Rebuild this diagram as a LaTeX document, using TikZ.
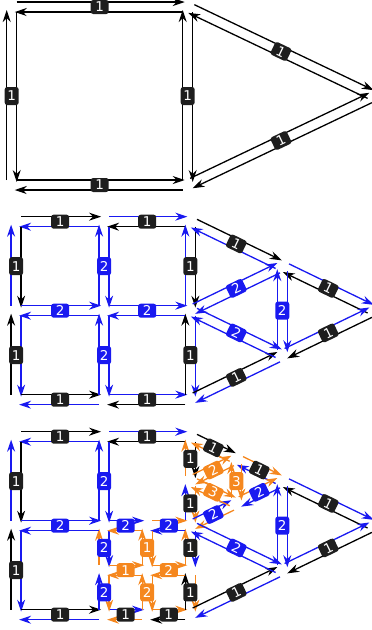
\documentclass[tikz,border=0pt]{standalone}
\usepackage{fontspec}
\setsansfont{DejaVu Sans}
\usetikzlibrary{calc}
\usetikzlibrary{arrows.meta}
\usepackage{xcolor}
\definecolor{lone}{RGB}{0,0,0}
\definecolor{ltwo}{RGB}{25,25,240}
\definecolor{lthree}{RGB}{245,135,30}
\definecolor{tagone}{RGB}{30,30,30}

% one half-edge, on the left of its direction
\newcommand{\halfedge}[3]{%
  \draw[half,#3] ($(#1)!5pt!90:(#2)$) -- ($(#2)!5pt!-90:(#1)$);}
% an edge: its two half-edges and its tag
\newcommand{\meshedge}[7]{%
  \halfedge{#1}{#2}{#3}%
  \halfedge{#2}{#1}{#4}%
  \path (#1) -- node[tag,fill=#6,#7] {#5} (#2);}

\begin{document}
\begin{tikzpicture}[x=88pt,y=89pt,
    half/.style={line width=1.3pt, shorten <=5pt, shorten >=3pt, -{Stealth[length=12pt,width=8pt]}},
    tag/.style={rounded corners=2.5pt, text=white, inner sep=0pt, font=\sffamily\fontsize{13.5}{13.5}\selectfont},
    htag/.style={sloped, minimum width=18pt, minimum height=14pt},
    vtag/.style={minimum width=14pt, minimum height=18pt}]
    \useasboundingbox (-0.133,-0.172) rectangle (4.094,6.907);

    % Coarse mesh
    \begin{scope}[shift={(0,4.828)}]
        \coordinate (A1) at (0,2);
        \coordinate (B1) at (2,2);
        \coordinate (C1) at (0,0);
        \coordinate (D1) at (2,0);
        \coordinate (T1) at (4.12,1);
    \end{scope}
    \meshedge{A1}{B1}{lone}{lone}{1}{tagone}{htag}
    \meshedge{C1}{A1}{lone}{lone}{1}{tagone}{vtag}
    \meshedge{C1}{D1}{lone}{lone}{1}{tagone}{htag}
    \meshedge{D1}{B1}{lone}{lone}{1}{tagone}{vtag}
    \meshedge{B1}{T1}{lone}{lone}{1}{tagone}{htag}
    \meshedge{T1}{D1}{lone}{lone}{1}{tagone}{htag}

    % Refined once
    \begin{scope}[shift={(0,2.416)}]
        \coordinate (A2) at (0.05,2);
        \coordinate (E2) at (1.05,2);
        \coordinate (B2) at (2.03,2);
        \coordinate (F2) at (0.05,1);
        \coordinate (G2) at (1.05,1);
        \coordinate (H2) at (2.03,1);
        \coordinate (C2) at (0.05,0);
        \coordinate (I2) at (1.05,0);
        \coordinate (D2) at (2.03,0);
        \coordinate (T2) at (4.12,1);
        \coordinate (U2) at (3.075,1.5);
        \coordinate (W2) at (3.075,0.5);
    \end{scope}
    \meshedge{A2}{E2}{lone}{ltwo}{1}{tagone}{htag}
    \meshedge{E2}{B2}{ltwo}{lone}{1}{tagone}{htag}
    \meshedge{A2}{F2}{lone}{ltwo}{1}{tagone}{vtag}
    \meshedge{F2}{C2}{ltwo}{lone}{1}{tagone}{vtag}
    \meshedge{C2}{I2}{lone}{ltwo}{1}{tagone}{htag}
    \meshedge{I2}{D2}{ltwo}{lone}{1}{tagone}{htag}
    \meshedge{D2}{H2}{lone}{ltwo}{1}{tagone}{vtag}
    \meshedge{H2}{B2}{ltwo}{lone}{1}{tagone}{vtag}
    \meshedge{B2}{U2}{lone}{ltwo}{1}{tagone}{htag}
    \meshedge{U2}{T2}{ltwo}{lone}{1}{tagone}{htag}
    \meshedge{T2}{W2}{lone}{ltwo}{1}{tagone}{htag}
    \meshedge{W2}{D2}{ltwo}{lone}{1}{tagone}{htag}
    \meshedge{E2}{G2}{ltwo}{ltwo}{2}{ltwo}{vtag}
    \meshedge{G2}{I2}{ltwo}{ltwo}{2}{ltwo}{vtag}
    \meshedge{F2}{G2}{ltwo}{ltwo}{2}{ltwo}{htag}
    \meshedge{G2}{H2}{ltwo}{ltwo}{2}{ltwo}{htag}
    \meshedge{H2}{U2}{ltwo}{ltwo}{2}{ltwo}{htag}
    \meshedge{H2}{W2}{ltwo}{ltwo}{2}{ltwo}{htag}
    \meshedge{U2}{W2}{ltwo}{ltwo}{2}{ltwo}{vtag}

    % Refined locally
    \begin{scope}
        \coordinate (A3) at (0.05,2);
        \coordinate (E3) at (1.05,2);
        \coordinate (B3) at (2.03,2);
        \coordinate (F3) at (0.05,1);
        \coordinate (G3) at (1.05,1);
        \coordinate (J3) at (1.54,1);
        \coordinate (H3) at (2.03,1);
        \coordinate (K3) at (1.05,0.5);
        \coordinate (L3) at (1.54,0.5);
        \coordinate (N3) at (2.03,0.5);
        \coordinate (C3) at (0.05,0);
        \coordinate (I3) at (1.05,0);
        \coordinate (O3) at (1.54,0);
        \coordinate (D3) at (2.03,0);
        \coordinate (T3) at (4.12,1);
        \coordinate (U3) at (3.075,1.5);
        \coordinate (W3) at (3.075,0.5);
        \coordinate (P3) at (2.553,1.75);
        \coordinate (Q3) at (2.553,1.25);
        \coordinate (R3) at (2.03,1.5);
    \end{scope}
    \meshedge{A3}{E3}{lone}{ltwo}{1}{tagone}{htag}
    \meshedge{E3}{B3}{ltwo}{lone}{1}{tagone}{htag}
    \meshedge{A3}{F3}{lone}{ltwo}{1}{tagone}{vtag}
    \meshedge{F3}{C3}{ltwo}{lone}{1}{tagone}{vtag}
    \meshedge{C3}{I3}{lone}{ltwo}{1}{tagone}{htag}
    \meshedge{I3}{O3}{ltwo}{lthree}{1}{tagone}{htag}
    \meshedge{O3}{D3}{lthree}{lone}{1}{tagone}{htag}
    \meshedge{D3}{N3}{lone}{lthree}{1}{tagone}{vtag}
    \meshedge{N3}{H3}{lthree}{ltwo}{1}{tagone}{vtag}
    \meshedge{H3}{R3}{ltwo}{lthree}{1}{tagone}{vtag}
    \meshedge{R3}{B3}{lthree}{lone}{1}{tagone}{vtag}
    \meshedge{B3}{P3}{lone}{lthree}{1}{tagone}{htag}
    \meshedge{P3}{U3}{lthree}{ltwo}{1}{tagone}{htag}
    \meshedge{U3}{T3}{ltwo}{lone}{1}{tagone}{htag}
    \meshedge{T3}{W3}{lone}{ltwo}{1}{tagone}{htag}
    \meshedge{W3}{D3}{ltwo}{lone}{1}{tagone}{htag}
    \meshedge{E3}{G3}{ltwo}{ltwo}{2}{ltwo}{vtag}
    \meshedge{G3}{K3}{ltwo}{lthree}{2}{ltwo}{vtag}
    \meshedge{K3}{I3}{lthree}{ltwo}{2}{ltwo}{vtag}
    \meshedge{F3}{G3}{ltwo}{ltwo}{2}{ltwo}{htag}
    \meshedge{G3}{J3}{ltwo}{lthree}{2}{ltwo}{htag}
    \meshedge{J3}{H3}{lthree}{ltwo}{2}{ltwo}{htag}
    \meshedge{H3}{Q3}{ltwo}{lthree}{2}{ltwo}{htag}
    \meshedge{Q3}{U3}{lthree}{ltwo}{2}{ltwo}{htag}
    \meshedge{H3}{W3}{ltwo}{ltwo}{2}{ltwo}{htag}
    \meshedge{U3}{W3}{ltwo}{ltwo}{2}{ltwo}{vtag}
    \meshedge{J3}{L3}{lthree}{lthree}{1}{lthree}{vtag}
    \meshedge{K3}{L3}{lthree}{lthree}{1}{lthree}{htag}
    \meshedge{L3}{N3}{lthree}{lthree}{2}{lthree}{htag}
    \meshedge{L3}{O3}{lthree}{lthree}{2}{lthree}{vtag}
    \meshedge{R3}{P3}{lthree}{lthree}{2}{lthree}{htag}
    \meshedge{R3}{Q3}{lthree}{lthree}{3}{lthree}{htag}
    \meshedge{P3}{Q3}{lthree}{lthree}{3}{lthree}{vtag}
\end{tikzpicture}
\end{document}
